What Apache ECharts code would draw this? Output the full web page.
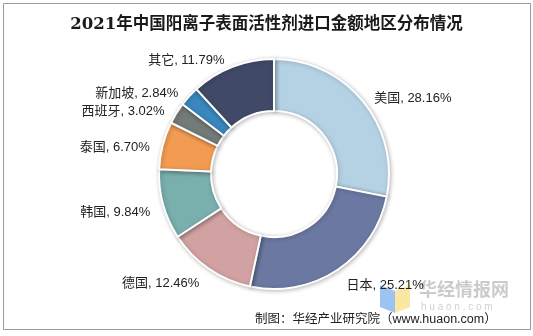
<!DOCTYPE html>
<html>
<head>
<meta charset="utf-8">
<script src="https://cdn.jsdelivr.net/npm/echarts@6/dist/echarts.min.js"></script>
<style>
html,body{margin:0;padding:0;background:#fff;}
#chart{width:533px;height:336px;}
</style>
</head>
<body>
<div id="chart"></div>
<script>
// Import share by region, 2021 (%)
const regions = ['美国', '日本', '德国', '韩国', '泰国', '西班牙', '新加坡', '其它'];
const shares = [28.16, 25.21, 12.46, 9.84, 6.70, 3.02, 2.84, 11.79];
const sliceColors = ['#b5d2e5', '#6b78a1', '#d2a2a2', '#79afad', '#f29b52', '#737b79', '#3987bd', '#404a68'];

const titleText = '2021年中国阳离子表面活性剂进口金额地区分布情况';
const sourceText = '制图：华经产业研究院（www.huaon.com）';

const chart = echarts.init(document.getElementById('chart'), null, { renderer: 'canvas' });

const pieCenter = [274, 174];

const pieData = regions.map((name, i) => ({
  name: name,
  value: shares[i],
  itemStyle: { color: sliceColors[i] }
}));

chart.setOption({
  animation: false,
  backgroundColor: '#fff',
  title: {
    text: titleText,
    left: 'center',
    top: 11,
    textStyle: {
      fontFamily: '"DejaVu Serif", "Noto Sans CJK SC", serif',
      fontSize: 16.5,
      fontWeight: 'bold',
      color: '#1a1a1a'
    }
  },
  series: [{
    type: 'pie',
    z: 3,
    center: pieCenter,
    radius: [63, 115],
    startAngle: 90,
    clockwise: true,
    avoidLabelOverlap: false,
    itemStyle: {
      borderColor: '#fff',
      borderWidth: 2,
      shadowBlur: 4,
      shadowColor: 'rgba(0,0,0,0.25)',
      shadowOffsetX: 1,
      shadowOffsetY: 1
    },
    label: {
      show: true,
      position: 'outside',
      formatter: p => p.name + ', ' + p.value.toFixed(2) + '%',
      fontFamily: '"Liberation Sans", Arial, "Noto Sans CJK SC", sans-serif',
      fontSize: 13,
      color: '#222'
    },
    labelLine: { show: false, length: 8, length2: 0 },
    // labels sit a little lower than the default ring placement
    labelLayout: function (params) {
      const r = params.labelRect;
      const rel = r.y + r.height / 2 - pieCenter[1];
      return { dy: 5 + rel * 0.035 };
    },
    data: pieData
  }],
  graphic: [
    {
      type: 'rect',
      shape: { x: 3.5, y: 3.5, width: 527, height: 326 },
      style: { fill: 'none', stroke: '#9a9a9a', lineWidth: 1 },
      z: -1
    },
    // watermark emblem
    {
      type: 'polygon',
      shape: { points: [[380, 285], [395, 291], [395, 313], [380, 307]] },
      style: { fill: '#9dc3f2' },
      z: 1
    },
    {
      type: 'polygon',
      shape: { points: [[395, 291], [410, 285], [410, 307], [395, 313]] },
      style: { fill: '#fbe7a1' },
      z: 1
    },
    {
      type: 'text',
      left: 419,
      top: 280,
      style: {
        text: '华经情报网',
        font: 'bold 18px "Noto Sans CJK SC", sans-serif',
        fill: 'rgba(175,175,175,0.65)'
      },
      z: 1
    },
    {
      type: 'text',
      left: 421,
      top: 302,
      style: {
        text: 'h u a o n . c o m',
        font: '10px "Liberation Sans", Arial, sans-serif',
        fill: 'rgba(190,190,190,0.7)'
      },
      z: 1
    },
    {
      type: 'text',
      left: 255,
      top: 313,
      style: {
        text: sourceText,
        font: '12.5px "Liberation Sans", Arial, "Noto Sans CJK SC", sans-serif',
        fill: '#222'
      },
      z: 11
    }
  ]
});
</script>
</body>
</html>
